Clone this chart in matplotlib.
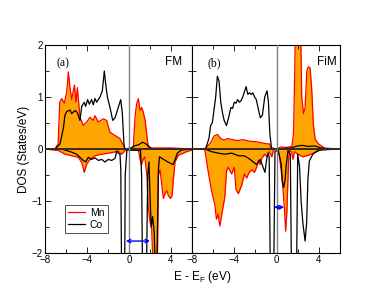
import numpy as np
import matplotlib
matplotlib.use('Agg')
import matplotlib.pyplot as plt

plt.rcParams['font.family'] = ['Liberation Sans', 'DejaVu Sans']

# ---- panel (a): FM ----
a_mn_up_x = [-8, -7.05, -6.75, -6.6, -6.4, -6.16, -5.93, -5.78, -5.62, -5.46, -5.2, -5.05, -4.92,
             -4.67, -4.35, -4.03, -3.71, -3.4, -3.24, -2.92, -2.45, -2.13, -1.81, -1.33, -0.86,
             -0.54, -0.38, 0, 0.41, 0.57, 0.73, 0.89, 1.05, 1.21, 1.37, 1.52, 1.69, 1.84, 2.1,
             3, 4, 5, 6]
a_mn_up = [0, 0, 0.1, 0.9, 0.97, 0.88, 1.1, 1.48, 1.18, 0.95, 1.23, 0.9, 1.18,
           0.61, 0.45, 0.52, 0.61, 0.55, 0.64, 0.52, 0.58, 0.55, 0.32, 0.26, 0.2,
           0.07, 0, 0, 0.03, 0.61, 0.87, 0.97, 0.74, 0.8, 0.7, 0.57, 0.28, 0.03, 0.02,
           0.02, 0.02, 0.01, 0]
a_mn_dn_x = [-8, -6.73, -6.1, -5.46, -4.83, -4.5, -4.26, -4.03, -3.71, -3.24, -2.6, -1.65, -1.02,
             -0.7, -0.38, 0, 0.9, 1.05, 1.2, 1.35, 1.5, 1.7, 1.84, 2.0, 2.16, 2.3, 2.7, 2.8,
             2.95, 3.1, 3.27, 3.45, 3.6, 3.75, 3.95, 4.1, 4.22, 4.38, 4.7, 5.5, 6]
a_mn_dn = [0, -0.03, -0.1, -0.13, -0.16, -0.26, -0.45, -0.29, -0.2, -0.13, -0.1, -0.07, -0.04,
           -0.1, -0.03, 0, -0.02, -0.2, -0.3, -0.2, -0.15, -0.5, -1.13, -1.4, -1.55, -2.3, -2.3, -0.5,
           -0.4, -0.65, -0.95, -0.85, -0.8, -0.9, -0.95, -0.9, -0.6, -0.25, -0.12, -0.05, -0.02]
a_co_up_x = [-8, -7.05, -6.57, -6.25, -6.1, -5.93, -5.62, -5.46, -5.14, -4.92, -4.67, -4.5, -4.26,
             -4.13, -3.94, -3.78, -3.56, -3.4, -3.24, -3.08, -2.76, -2.54, -2.35, -2.22, -2.06,
             -1.81, -1.55, -1.33, -1.02, -0.79, -0.64, -0.48, -0.4, 0.2, 0.5, 0.9, 1.3, 1.6, 1.9,
             2.2, 6]
a_co_up = [0, 0, 0.1, 0.4, 0.65, 0.72, 0.75, 0.68, 0.74, 0.7, 0.55, 0.82, 0.9,
           0.82, 0.95, 0.86, 0.95, 0.85, 0.97, 0.9, 1.0, 1.12, 1.5, 1.25, 1.0,
           0.8, 0.55, 0.6, 0.8, 0.95, 0.7, 0.1, 0, 0.02, 0.06, 0.08, 0.13, 0.1, 0.05,
           0, 0]
a_co_dn_x = [-8, -6.5, -6.1, -5.46, -4.99, -4.67, -4.35, -4.13, -3.87, -3.56, -3.24, -2.92, -2.6,
             -2.29, -1.97, -1.65, -1.33, -1.17, -1.02, -0.86, -0.78, -0.7, -0.42, -0.36, -0.2,
             1.1, 1.2, 1.3, 1.65, 1.78, 1.9, 2.02, 2.12, 2.25, 2.4, 2.5, 2.65, 2.8, 2.9, 3.3,
             3.7, 4.0, 4.2, 4.4, 4.6, 5.0, 6]
a_co_dn = [0, 0, -0.02, -0.06, -0.1, -0.16, -0.22, -0.25, -0.16, -0.2, -0.17, -0.22, -0.2,
           -0.25, -0.2, -0.22, -0.18, -0.04, -0.08, -0.1, -0.4, -2.6, -2.6, -0.5, -0.02,
           -0.03, -0.5, -2.6, -2.6, -0.5, -0.25, -1.0, -1.5, -1.3, -1.6, -2.3, -2.3, -0.4, -0.15, -0.2,
           -0.25, -0.28, -0.3, -0.2, -0.08, -0.02, 0]

# ---- panel (b): FiM ----
b_mn_up_x = [-8, -6.8, -6.56, -6.24, -5.92, -5.6, -5.28, -4.96, -4.64, -4.16, -3.68, -3.2, -2.56,
             -1.92, -1.44, -0.96, -0.7, -0.48, 0, 0.4, 0.8, 1.2, 1.45, 1.6, 1.72, 1.8, 2.25,
             2.38, 2.55, 2.7, 2.86, 3.0, 3.17, 3.33, 3.48, 3.65, 3.96, 4.44, 4.6, 6]
b_mn_up = [0, 0, 0.05, 0.12, 0.25, 0.28, 0.2, 0.17, 0.2, 0.18, 0.16, 0.18, 0.15,
           0.14, 0.12, 0.1, 0.1, 0.0, 0, 0.04, 0.03, 0.04, 0.05, 0.3, 1.5, 2.6, 2.6,
           1.0, 0.68, 0.8, 1.5, 1.58, 1.56, 1.13, 0.48, 0.19, 0.1, 0.03, 0, 0]
b_mn_dn_x = [-8, -6.8, -6.48, -6.16, -5.85, -5.69, -5.53, -5.37, -5.21, -5.05, -4.9, -4.73,
             -4.57, -4.41, -4.25, -4.0, -3.85, -3.62, -3.3, -3.05, -2.83, -2.6, -2.35, -2.1,
             -1.88, -1.71, -1.56, -1.4, -1.14, -0.92, -0.7, -0.45, -0.29, 0, 0.13, 0.29, 0.44,
             0.6, 0.76, 0.86, 0.98, 1.14, 1.24, 1.4, 1.55, 1.7, 2.0, 2.5, 3.0, 3.5, 4.0, 4.5, 6]
b_mn_dn = [0, 0, -0.42, -0.8, -1.06, -1.35, -1.25, -1.48, -1.29, -1.1, -0.93, -0.42,
           -0.35, -0.42, -0.48, -0.35, -0.77, -0.86, -0.7, -0.48, -0.56, -0.45, -0.4, -0.45,
           -0.35, -0.22, -0.3, -0.18, -0.1, -0.15, -0.05, -0.15, -0.02, 0, -0.02, -0.17, -0.43,
           -0.75, -1.2, -1.58, -1.2, -0.2, -0.03, -0.05, -0.2, -0.05, -0.1, -0.15, -0.12, -0.08, -0.03, 0, 0]
b_co_up_x = [-8, -6.72, -6.4, -6.24, -6.08, -5.92, -5.76, -5.6, -5.44, -5.28, -5.12, -4.96, -4.74,
             -4.54, -4.32, -4.16, -4.0, -3.84, -3.68, -3.52, -3.36, -3.2, -3.04, -2.88, -2.72,
             -2.56, -2.4, -2.24, -2.08, -1.92, -1.76, -1.54, -1.34, -1.12, -0.9, -0.77, -0.64,
             -0.48, 0, 1.4, 1.8, 2.4, 3.0, 3.6, 4.2, 6]
b_co_up = [0, 0, 0.2, 0.45, 0.5, 0.75, 1.0, 1.4, 1.3, 0.9, 0.7, 0.55, 0.45,
           0.6, 0.8, 0.78, 0.9, 0.88, 0.95, 0.9, 0.93, 1.0, 1.1, 1.2, 1.05,
           1.08, 1.05, 1.08, 1.0, 0.95, 0.8, 0.6, 0.65, 1.0, 1.12, 0.9, 0.3,
           0.02, 0, 0.02, 0.05, 0.07, 0.05, 0.06, 0.02, 0]
b_co_dn_x = [-8, -6.8, -6.16, -5.5, -4.9, -4.25, -3.6, -3.1, -2.8, -2.5, -2.2, -1.88, -1.56,
             -1.4, -1.1, -0.95, -0.82, -0.7, -0.58, -0.28, -0.15, 0.15, 0.44, 0.54, 0.67, 0.8,
             0.92, 1.08, 1.3, 1.42, 1.88, 2.0, 2.17, 2.32, 2.5, 2.7, 2.85, 2.96, 3.1, 3.43,
             3.75, 4.1, 6]
b_co_dn = [0, 0, -0.05, -0.08, -0.1, -0.08, -0.13, -0.13, -0.16, -0.2, -0.25, -0.3, -0.2,
           -0.28, -0.45, -0.22, -0.08, -0.15, -2.6, -2.6, -0.05, -0.02, -0.29, -0.61, -0.74, -0.6,
           -0.3, -0.03, -0.1, -2.6, -2.6, -0.1, -0.33, -1.0, -1.45, -1.77, -1.4, -0.6, -0.23, -0.1,
           -0.05, -0.02, 0]

# band-gap arrows (start, end, height)
gap_a = (-0.3, 2.0, -1.77)
gap_b = (-0.23, 0.72, -1.12)

fig = plt.figure(figsize=(3.85, 2.98), dpi=100)
ax1 = fig.add_axes([45/385, 1-253/298, 147/385, 208/298])
ax2 = fig.add_axes([192/385, 1-253/298, 148/385, 208/298])

panels = [
    (ax1, a_mn_up_x, a_mn_up, a_mn_dn_x, a_mn_dn, a_co_up_x, a_co_up, a_co_dn_x, a_co_dn, gap_a, '(a)', 'FM', 0.08, 0.93),
    (ax2, b_mn_up_x, b_mn_up, b_mn_dn_x, b_mn_dn, b_co_up_x, b_co_up, b_co_dn_x, b_co_dn, gap_b, '(b)', 'FiM', 0.108, 0.978),
]

for ax, mux, mu, mdx, md, cux, cu, cdx, cd, gap, lab, mag, lx, rx in panels:
    ax.fill_between(mux, 0, mu, color='#FFA500', lw=0, zorder=1)
    ax.fill_between(mdx, 0, md, color='#FFA500', lw=0, zorder=1)
    ln_mn, = ax.plot(mux, mu, color='red', lw=0.9, zorder=2)
    ax.plot(mdx, md, color='red', lw=0.9, zorder=2)
    ln_co, = ax.plot(cux, cu, color='black', lw=0.9, zorder=3)
    ax.plot(cdx, cd, color='black', lw=0.9, zorder=3)
    ax.axhline(0, color='#3a2a20', lw=1.4, zorder=4)
    ax.axvline(0, color='#808080', lw=1.0, zorder=4)
    ax.annotate('', xy=(gap[1], gap[2]), xytext=(gap[0], gap[2]),
                arrowprops=dict(arrowstyle='<->', color='blue', lw=1.0,
                                mutation_scale=6, shrinkA=0, shrinkB=0), zorder=5)
    ax.set_xlim(-8, 6)
    ax.set_ylim(-2, 2)
    ax.set_xticks([-8, -4, 0, 4])
    ax.set_xticks([-6, -2, 2, 6], minor=True)
    ax.set_yticks([-2, -1, 0, 1, 2])
    ax.set_yticks([-1.5, -0.5, 0.5, 1.5], minor=True)
    ax.tick_params(which='both', direction='in', top=True, right=True, labelsize=7, pad=1.5)
    ax.tick_params(which='major', length=4, width=0.6)
    ax.tick_params(which='minor', length=3, width=0.6)
    for s in ax.spines.values():
        s.set_linewidth(0.8)
    ax.text(lx, 0.913, lab, transform=ax.transAxes, fontsize=8.5, va='center', ha='left',
            family=['Liberation Serif', 'DejaVu Serif'])
    ax.text(rx, 0.92, mag, transform=ax.transAxes, fontsize=8.5, va='center', ha='right')

ax1.set_ylabel('DOS (States/eV)', fontsize=8.5, labelpad=1)
ax2.tick_params(labelleft=False)
ax1.legend([ln_mn, ln_co], ['Mn', 'Co'], loc='lower left', bbox_to_anchor=(0.136, 0.096),
           fontsize=7.5, frameon=True, fancybox=False, edgecolor='black', handlelength=1.6,
           handletextpad=0.5, borderpad=0.3, labelspacing=0.2, borderaxespad=0)
ax1.get_legend().get_frame().set_linewidth(0.6)

fig.text(201.7/385, 1-276.7/298, 'E - E$_\\mathregular{F}$ (eV)', fontsize=8.5, ha='center', va='center')

fig.savefig('out.png', dpi=100)
